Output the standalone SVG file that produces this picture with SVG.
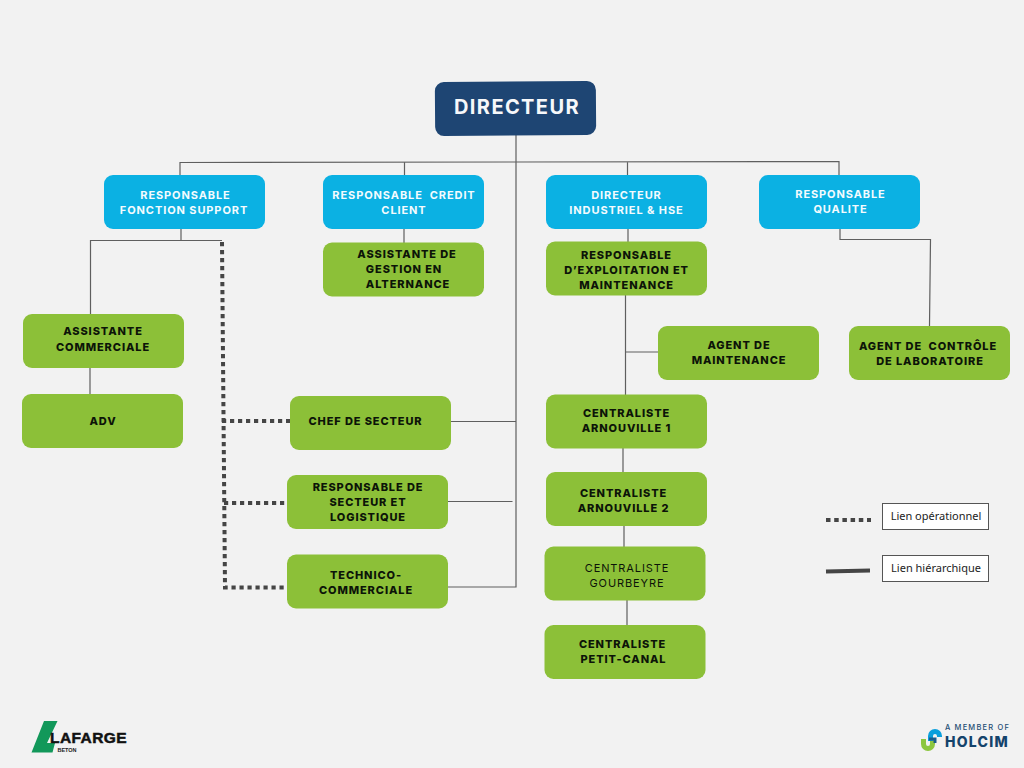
<svg xmlns="http://www.w3.org/2000/svg" width="1024" height="768" viewBox="0 0 1024 768">
<style>
.g{fill:#8cc038}.b{fill:#0bb1e3}
text{font-family:"Inter","Liberation Sans",sans-serif;text-anchor:middle}
.t{font-size:11px;font-weight:800;letter-spacing:.9px;fill:#0c1408}
.tb{font-size:11px;font-weight:700;letter-spacing:.9px;fill:#f4fbfe}
.l{fill:none;stroke:#5f5f5f;stroke-width:1.2}
.d{fill:none;stroke:#454545;stroke-width:4;stroke-dasharray:4.2 3.8}
.k{font-family:"Noto Sans","Liberation Sans",sans-serif;font-size:11px;fill:#222}
.lg{fill:#fff;stroke:#555;stroke-width:1}
</style>
<rect width="1024" height="768" fill="#f2f2f2"/>
<g id="connectors">
<path class="l" d="M516 135V587H448M180 175V162.500L516 162L839 161.500V175M404.500 162V175M627.500 162V175"/>
<path class="l" d="M181 228V240.500M90.500 314V240.500H222M90 367V394"/>
<path class="l" d="M404 228V243M628 228V242M625.500 295V395M626 352H658M623 448V472M624 526V547M627 600V625"/>
<path class="l" d="M840 228V239.500H930.500L929.500 326"/>
<path class="l" d="M451 421.500H516M448 501.500H512.500"/>
<path class="d" d="M222 242L225 587.500H287M222 421H290M224 503H287"/>
</g>
<g id="directeur"><rect x="435" y="81.500" width="161" height="54" rx="9" fill="#1e4573" transform="rotate(-.4 515 108)"/><text x="517" y="114" style="font-size:20px;font-weight:700;letter-spacing:1.4px;fill:#f7f8fa">DIRECTEUR</text></g>
<g id="resp-fonction"><rect class="b" x="104" y="175" width="161" height="54" rx="9"/><text class="tb" x="185.500" y="199">RESPONSABLE</text><text class="tb" x="184" y="214">FONCTION SUPPORT</text></g>
<g id="resp-credit"><rect class="b" x="323" y="175" width="161" height="54" rx="9"/><text class="tb" x="404" y="199" xml:space="preserve">RESPONSABLE  CREDIT</text><text class="tb" x="404" y="214">CLIENT</text></g>
<g id="dir-industriel"><rect class="b" x="546" y="175" width="161" height="54" rx="9"/><text class="tb" x="626.500" y="199">DIRECTEUR</text><text class="tb" x="626.500" y="214">INDUSTRIEL &amp; HSE</text></g>
<g id="resp-qualite"><rect class="b" x="759" y="175" width="161" height="54" rx="9"/><text class="tb" x="840.500" y="198">RESPONSABLE</text><text class="tb" x="840.500" y="213">QUALITE</text></g>
<g id="assistante-gestion"><rect class="g" x="323" y="242.500" width="161" height="54" rx="9"/><text class="t" x="407" y="258">ASSISTANTE DE</text><text class="t" x="404" y="273">GESTION EN</text><text class="t" x="408" y="288">ALTERNANCE</text></g>
<g id="resp-exploitation"><rect class="g" x="546" y="241.500" width="161" height="54" rx="9"/><text class="t" x="626.500" y="259">RESPONSABLE</text><text class="t" x="626.500" y="274">D’EXPLOITATION ET</text><text class="t" x="626.500" y="289">MAINTENANCE</text></g>
<g id="assistante-commerciale"><rect class="g" x="23" y="314" width="161" height="54" rx="9"/><text class="t" x="103" y="335">ASSISTANTE</text><text class="t" x="103" y="351">COMMERCIALE</text></g>
<g id="adv"><rect class="g" x="22" y="394" width="161" height="54" rx="9"/><text class="t" x="103" y="425">ADV</text></g>
<g id="agent-maintenance"><rect class="g" x="658" y="326" width="161" height="54" rx="9"/><text class="t" x="739" y="349">AGENT DE</text><text class="t" x="739" y="364">MAINTENANCE</text></g>
<g id="agent-controle"><rect class="g" x="849" y="326" width="161" height="54" rx="9"/><text class="t" x="928" y="350" xml:space="preserve">AGENT DE  CONTRÔLE</text><text class="t" x="930" y="365">DE LABORATOIRE</text></g>
<g id="chef-secteur"><rect class="g" x="290" y="396" width="161" height="54" rx="9"/><text class="t" x="365.500" y="425">CHEF DE SECTEUR</text></g>
<g id="resp-secteur"><rect class="g" x="287" y="475" width="161" height="54" rx="9"/><text class="t" x="368" y="491">RESPONSABLE DE</text><text class="t" x="368" y="506">SECTEUR ET</text><text class="t" x="368" y="521">LOGISTIQUE</text></g>
<g id="technico"><rect class="g" x="287" y="554.500" width="161" height="54" rx="9"/><text class="t" x="366" y="579">TECHNICO-</text><text class="t" x="366" y="594">COMMERCIALE</text></g>
<g id="centraliste-1"><rect class="g" x="546" y="394.500" width="161" height="54" rx="9"/><text class="t" x="626.500" y="417">CENTRALISTE</text><text class="t" x="626.500" y="432">ARNOUVILLE 1</text></g>
<g id="centraliste-2"><rect class="g" x="546" y="472" width="161" height="54" rx="9"/><text class="t" x="623.500" y="497">CENTRALISTE</text><text class="t" x="623.500" y="512">ARNOUVILLE 2</text></g>
<g id="centraliste-gourbeyre"><rect class="g" x="544.500" y="546.500" width="161" height="54" rx="9"/><text class="t" x="627" y="572" style="font-weight:400">CENTRALISTE</text><text class="t" x="627" y="587" style="font-weight:400">GOURBEYRE</text></g>
<g id="centraliste-petit-canal"><rect class="g" x="544.500" y="625" width="161" height="54" rx="9"/><text class="t" x="622.500" y="648">CENTRALISTE</text><text class="t" x="623.500" y="663">PETIT-CANAL</text></g>
<g id="legend">
<path d="M826 520H871" fill="none" stroke="#454545" stroke-width="4" stroke-dasharray="4.500 3.700"/>
<path d="M826 571.500L870 570.500" fill="none" stroke="#454545" stroke-width="4"/>
<rect class="lg" x="882.500" y="503.500" width="106" height="26"/><text class="k" x="936" y="520">Lien opérationnel</text>
<rect class="lg" x="882.500" y="555.500" width="106" height="26"/><text class="k" x="936" y="572">Lien hiérarchique</text>
</g>
<g id="logo-lafarge">
<path d="M44 721H57.500L47 743H55L52.500 752.500H31.500Z" fill="#12985a"/>
<text x="88.500" y="743" style="font-family:'Liberation Sans',sans-serif;font-size:15.500px;font-weight:700;letter-spacing:.4px;fill:#111;stroke:#111;stroke-width:.5">LAFARGE</text>
<text x="67" y="752" style="font-family:'Liberation Sans',sans-serif;font-size:5.500px;font-weight:700;fill:#222">BETON</text>
</g>
<g id="logo-holcim">
<path d="M923.500 739V744A4.500 4.500 0 0 0 932.500 744V739" fill="none" stroke="#8cc63f" stroke-width="5"/>
<path d="M930.500 741V736A4.500 4.500 0 0 1 939.500 736V737" fill="none" stroke="#0a9fdc" stroke-width="5"/>
<path d="M929 739H935V743" fill="none" stroke="#1a5c8c" stroke-width="3"/>
<text x="977.500" y="730" style="font-size:7.500px;font-weight:500;letter-spacing:1.2px;fill:#1f4e75">A MEMBER OF</text>
<text x="977" y="746.500" style="font-size:14px;font-weight:800;letter-spacing:1.3px;fill:#14436b">HOLCIM</text>
</g>
</svg>
